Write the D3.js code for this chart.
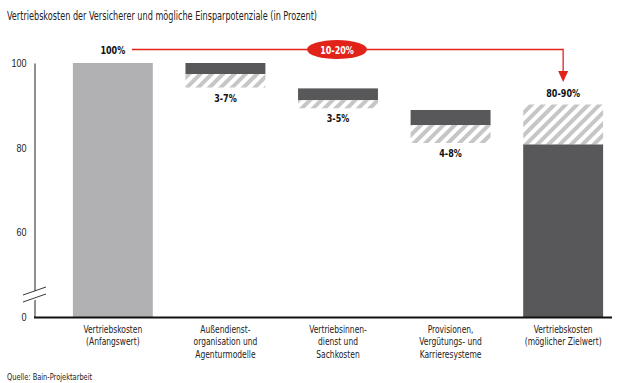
<!DOCTYPE html>
<html><head><meta charset="utf-8">
<script src="https://cdn.jsdelivr.net/npm/d3@7"></script>
<style>
body{margin:0;background:#fff;}
svg{display:block;font-family:"DejaVu Sans Condensed","DejaVu Sans",sans-serif;}
</style></head>
<body><svg id="c" width="621" height="383"></svg>
<script>
const categories = [
  ["Vertriebskosten","(Anfangswert)"],
  ["Außendienst-","organisation und","Agenturmodelle"],
  ["Vertriebsinnen-","dienst und","Sachkosten"],
  ["Provisionen,","Vergütungs- und","Karrieresysteme"],
  ["Vertriebskosten","(möglicher Zielwert)"]
];
const solidHigh = [100, 100, 94, 88.9, 80.8];
const solidLow  = [0, 97.4, 91.2, 85.3, 0];
const hatchHigh = [null, 97.4, 91.2, 85.3, 90.2];
const hatchLow  = [null, 94.2, 89.3, 81.1, 80.8];
const barLabels = ["100%", "3-7%", "3-5%", "4-8%", "80-90%"];
const yTicks = [40, 60, 80, 100];
const yTickLabels = ["0", "60", "80", "100"];
const savingLabel = "10-20%";
const title = "Vertriebskosten der Versicherer und mögliche Einsparpotenziale (in Prozent)";
const source = "Quelle: Bain-Projektarbeit";

const svg = d3.select("#c");
const x = d3.scaleBand().domain(d3.range(categories.length)).range([56, 620]).paddingInner(0.29).paddingOuter(0.15);
const y = d3.scaleLinear().domain([40, 100]).range([317, 63]).clamp(true);

function condense(sel, f) {
  sel.each(function () {
    const w = this.getComputedTextLength();
    d3.select(this).attr("textLength", w * f).attr("lengthAdjust", "spacingAndGlyphs");
  });
}

// hatch pattern
const defs = svg.append("defs");
const pat = defs.append("pattern").attr("id","hatch").attr("patternUnits","userSpaceOnUse")
  .attr("width",8).attr("height",8).attr("patternTransform","rotate(45)");
pat.append("rect").attr("width",8).attr("height",8).attr("fill","#fff");
pat.append("rect").attr("width",4).attr("height",8).attr("fill","#c6c6c6");

// title
svg.append("text").attr("x",7).attr("y",20).attr("font-size",11.5).attr("fill","#222")
  .attr("textLength",310).attr("lengthAdjust","spacingAndGlyphs").text(title);

// bars
const idx = d3.range(categories.length);
svg.selectAll(".solid").data(idx).join("rect")
  .attr("x", i => x(i)).attr("width", x.bandwidth())
  .attr("y", i => y(solidHigh[i])).attr("height", i => y(solidLow[i]) - y(solidHigh[i]))
  .attr("fill", i => i === 0 ? "#b1b1b3" : "#58585a");
svg.selectAll(".hatch").data(idx.filter(i => hatchHigh[i] != null)).join("rect")
  .attr("x", i => x(i)).attr("width", x.bandwidth())
  .attr("y", i => y(hatchHigh[i])).attr("height", i => y(hatchLow[i]) - y(hatchHigh[i]))
  .attr("fill", "url(#hatch)");

// y axis
const yAxis = svg.append("g").attr("transform","translate(34.5,0)")
  .call(d3.axisLeft(y).tickValues(yTicks).tickSize(0).tickPadding(8).tickFormat((d,i)=>yTickLabels[i]));
yAxis.select(".domain").attr("stroke","#222").attr("stroke-width",1);
yAxis.selectAll("text").attr("font-size",11).attr("fill","#222").attr("font-family","inherit");
condense(yAxis.selectAll("text"), 0.82);
// axis break
svg.append("polygon").attr("points","30,293 40,289 40,298 30,302").attr("fill","#fff");
svg.append("line").attr("x1",23).attr("y1",295).attr("x2",46).attr("y2",287).attr("stroke","#222").attr("stroke-width",0.9);
svg.append("line").attr("x1",23).attr("y1",302).attr("x2",46).attr("y2",294).attr("stroke","#222").attr("stroke-width",0.9);
// x axis line
svg.append("line").attr("x1",34).attr("x2",612).attr("y1",317.5).attr("y2",317.5).attr("stroke","#111").attr("stroke-width",2);

// category labels
idx.forEach(i=>{
  categories[i].forEach((line,j)=>{
    const t = svg.append("text").attr("text-anchor","middle").attr("font-size",10.5).attr("fill","#222")
      .attr("x", x(i)+x.bandwidth()/2).attr("y", 333 + j*12.3).text(line);
    condense(t, 0.8);
  });
});

// bar labels
const lblY = [54, y(hatchLow[1])+14, y(hatchLow[2])+14, y(hatchLow[3])+14, y(hatchHigh[4])-7];
idx.forEach(i=>{
  const t = svg.append("text").attr("x", x(i)+x.bandwidth()/2).attr("y", lblY[i]).attr("text-anchor","middle")
    .attr("font-size",10.5).attr("font-weight","bold").attr("fill","#111").text(barLabels[i]);
  condense(t, 0.85);
});

// red bracket
const red = "#e2231a";
const lineY = 49.5;
const xEnd = x(4)+x.bandwidth()/2;
svg.append("path").attr("d", `M132,${lineY} H${xEnd} V74`).attr("fill","none").attr("stroke",red).attr("stroke-width",1.3);
svg.append("path").attr("d", `M${xEnd-5},71 L${xEnd+5},71 L${xEnd},82 Z`).attr("fill",red);
svg.append("ellipse").attr("cx",337).attr("cy",lineY).attr("rx",30).attr("ry",9.5).attr("fill",red);
const st = svg.append("text").attr("x",337).attr("y",lineY+4).attr("text-anchor","middle").attr("font-size",10.5)
  .attr("font-weight","bold").attr("fill","#fff").text(savingLabel);
condense(st, 0.85);

// source
const so = svg.append("text").attr("x",7).attr("y",380).attr("font-size",9).attr("fill","#222").text(source);
condense(so, 0.82);
</script></body></html>
